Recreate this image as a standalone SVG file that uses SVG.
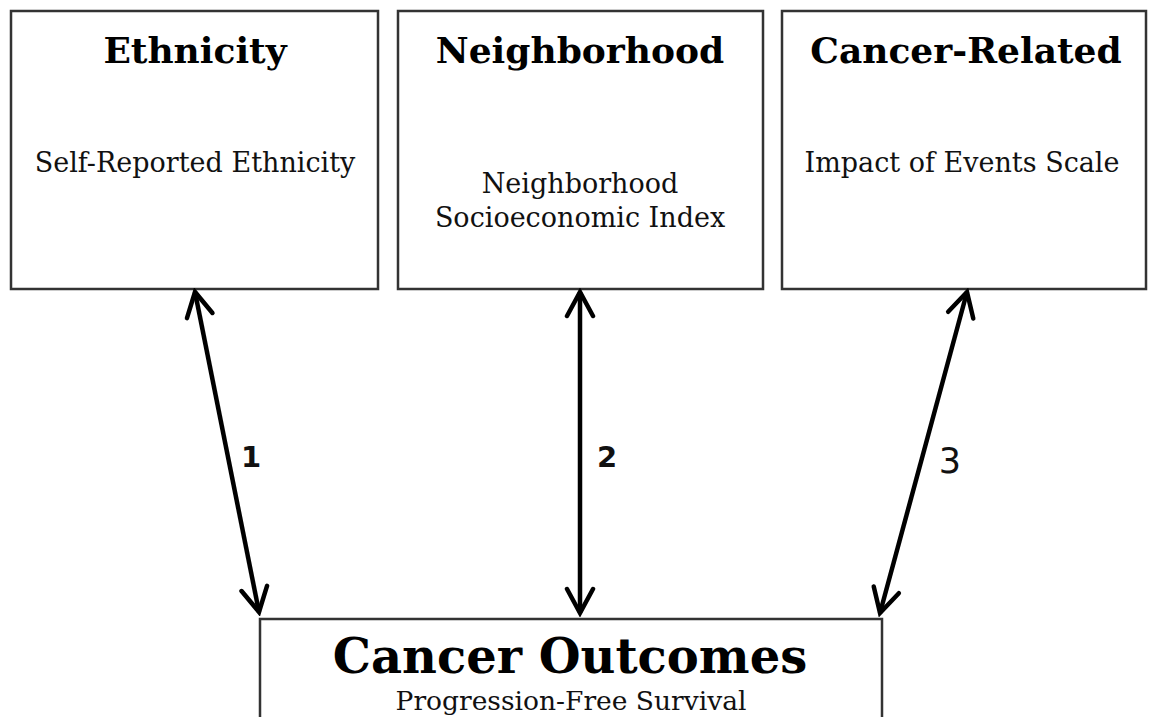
<svg xmlns="http://www.w3.org/2000/svg" width="1149" height="717" viewBox="0 0 1149 717">
<defs>
<style>
.box{fill:#fff;stroke:#333;stroke-width:2.5}
.h{font-family:"DejaVu Serif",Georgia,serif;font-weight:bold;font-size:36px;fill:#000;text-anchor:middle}
.t{font-family:"DejaVu Serif",Georgia,serif;font-size:27px;fill:#111;text-anchor:middle}
.conn{stroke:#000;stroke-width:4.5;fill:none;marker-start:url(#ah);marker-end:url(#ah)}
.lbl{font-family:"DejaVu Sans",Verdana,sans-serif;font-weight:bold;font-size:29px;fill:#111;text-anchor:middle}
</style>
<marker id="ah" viewBox="-30 -16 34 32" markerWidth="34" markerHeight="32" refX="0" refY="0" orient="auto-start-reverse" markerUnits="userSpaceOnUse">
<path d="M -24 -13 L 0 0 L -24 13" fill="none" stroke="#000" stroke-width="4.5" stroke-linejoin="miter" stroke-linecap="round"/>
</marker>
</defs>
<rect width="1149" height="717" fill="#fff"/>
<g id="ethnicity">
<rect class="box" x="11" y="11" width="367" height="278"/>
<text class="h" x="195" y="63">Ethnicity</text>
<text class="t" x="195" y="172">Self-Reported Ethnicity</text>
</g>
<g id="neighborhood">
<rect class="box" x="398" y="11" width="365" height="278"/>
<text class="h" x="580" y="63">Neighborhood</text>
<text class="t" x="580" y="193">Neighborhood</text>
<text class="t" x="580" y="227">Socioeconomic Index</text>
</g>
<g id="cancer-related">
<rect class="box" x="782" y="11" width="364" height="278"/>
<text class="h" x="966" y="63">Cancer-Related</text>
<text class="t" x="962" y="172">Impact of Events Scale</text>
</g>
<g id="outcomes">
<rect class="box" x="260" y="619" width="622" height="120"/>
<text class="h" x="570" y="673" style="font-size:48px">Cancer Outcomes</text>
<text class="t" x="571" y="710" style="font-size:26.5px">Progression-Free Survival</text>
</g>
<g id="connectors">
<line class="conn" x1="195" y1="292" x2="259" y2="612"/>
<line class="conn" x1="580" y1="292" x2="580" y2="613"/>
<line class="conn" x1="967" y1="292" x2="880" y2="613"/>
<text class="lbl" x="251" y="467">1</text>
<text class="lbl" x="607" y="467">2</text>
<text class="lbl" x="950" y="473" style="font-weight:normal;font-size:35px">3</text>
</g>
</svg>
